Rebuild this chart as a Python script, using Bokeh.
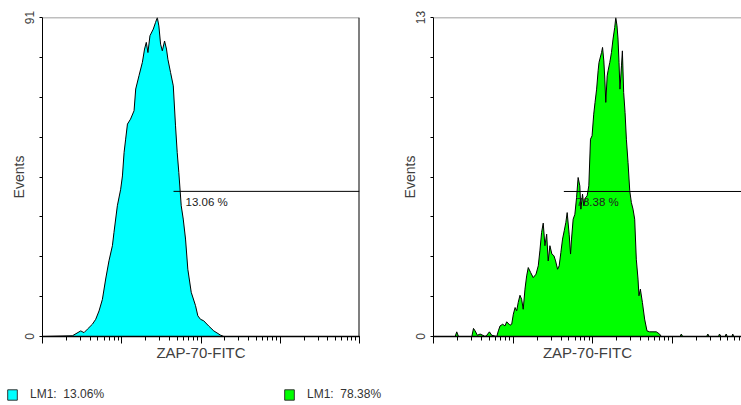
from bokeh.plotting import figure
from bokeh.models import Range1d, FixedTicker, LogTicker, Span, Legend, LegendItem, CustomJSTickFormatter
from bokeh.layouts import column, row
from bokeh.embed import file_html
from bokeh.resources import INLINE
from bokeh.core.properties import value

# ---- Left histogram (ZAP-70-FITC, control) ----
cyan_x = [1, 2.38, 3.04, 3.34, 3.69, 4.26, 4.69, 5.17, 5.70, 6.27, 6.90, 7.62, 7.98, 8.80,
          9.69, 10.2, 10.7, 11.2, 11.8, 12.9, 14.3, 15.0, 16.5, 18.2, 19.4, 20.4, 21.4,
          22.7, 25.0, 26.7, 28.1, 29.4, 30.9, 32.5, 34.7, 36.7, 38.2, 41.3, 44.7, 47.7,
          50.1, 52.5, 56.3, 59.7, 63.8, 68.2, 75.3, 85.3, 91.2, 98.6, 108, 125, 145,
          176, 194, 10000]
cyan_y = [0, 0.2, 1.6, 1.1, 2.1, 3.5, 4.9, 7.3, 10.6, 16.4, 21.6, 25.9, 29.7, 37.3,
          42.0, 45.8, 52.5, 56.3, 60.6, 62.0, 64.4, 70.6, 74.4, 78.2, 82.0, 83.9, 81.0,
          85.8, 87.7, 89.6, 91.0, 88.6, 83.4, 81.5, 84.3, 82.0, 79.1, 75.3, 71.5, 60.1,
          52.5, 46.8, 37.3, 33.5, 27.8, 19.2, 12.6, 8.8, 5.9, 4.9, 4.5, 3.0, 1.6,
          0.4, 0, 0]

# ---- Right histogram (ZAP-70-FITC, sample) ----
green_x = [1, 1.87, 1.96, 2.06, 3.03, 3.18, 3.33, 3.56, 3.85, 4.16, 4.44, 4.67, 5.04, 5.39,
           6.23, 6.53, 6.85, 7.40, 7.91, 8.30, 9.14, 9.60, 10.07, 10.6, 11.1, 11.6, 12.2,
           12.8, 13.4, 14.1, 14.8, 15.5, 16.6, 17.9, 19.4, 20.7, 21.7, 22.8, 23.9, 25.1,
           26.4, 27.6, 29.0, 30.7, 32.6, 34.2, 36.2, 37.9, 39.8, 41.8, 43.9, 46.0, 47.8,
           50.6, 52.7, 54.2, 56.8, 59.7, 62.7, 65.6, 68.9, 71.0, 74.5, 77.3, 81.2, 85.1,
           89.4, 93.8, 98.2, 103, 107, 112, 117, 120, 129, 133, 138, 142, 146, 152, 156,
           164, 172, 180, 189, 195, 202, 208, 214, 220, 230, 236, 245, 255, 265, 278,
           292, 306, 321, 337, 353, 371, 381, 397, 421, 449, 481, 519, 630, 692, 728,
           1250, 1297, 1350, 2700, 2795, 2900, 3800, 3917, 4100, 4600, 4750, 4900,
           5600, 5750, 5900, 7300]
green_y = [0, 0, 0.19, 0, 0, 0.33, 0.23, 0.05, 0.10, 0.05, 0, 0.05, 0.19, 0.05,
           0, 0.23, 0.43, 0.50, 0.43, 0.60, 0.46, 0.50, 0.91, 1.18, 1.05, 1.39, 1.68,
           1.52, 1.11, 1.93, 2.47, 2.81, 2.61, 2.40, 2.54, 2.88, 3.49, 4.24, 4.62, 3.70,
           4.17, 3.08, 3.70, 3.36, 3.29, 3.08, 2.74, 2.88, 3.42, 3.97, 4.31, 4.65, 5.05,
           4.17, 3.36, 3.97, 4.78, 4.98, 5.66, 6.48, 6.14, 5.19, 5.80, 5.33, 5.66, 5.73,
           6.14, 8.04, 8.18, 9.06, 9.54, 10.08, 10.83, 11.17, 11.57, 11.78, 11.23, 10.49, 9.54, 10.62, 10.83,
           11.17, 11.57, 12.12, 12.59, 13.0, 12.66, 12.12, 11.17, 10.08, 11.03, 11.64, 9.94, 9.13, 8.04, 7.09,
           5.94, 5.46, 5.19, 4.78, 3.15, 2.34, 1.66, 1.93, 1.39, 0.71, 0.23, 0.19, 0.19, 0.10, 0,
           0, 0.1, 0, 0, 0.1, 0, 0, 0.1, 0, 0, 0.1, 0,
           0, 0.1, 0, 0]

# Marker (LM1) gates: start of the gate, level, and percent labels
gate_start = [45, 43.4]
gate_level = [41.4, 5.91]
gate_pct = ["13.06 %", "78.38 %"]
gate_label_x = [63.8, 62.7]
gate_label_y = [38.3, 5.47]
legend_labels = ["LM1:  13.06%", "LM1:  78.38%"]
y_max = [91, 13]

CYAN = "#00FFFF"
GREEN = "#00FF00"
FONT = "Liberation Sans"
TXT = "#404040"

DECADE_PX = 79.6


def panel(xs, ys, color, idx, frame_w, left_b, right_b, right_edge):
    ymax = y_max[idx]
    xmax = 10 ** (frame_w / DECADE_PX) if not right_edge else 10000
    p = figure(x_axis_type="log", x_range=Range1d(1, xmax), y_range=Range1d(0, ymax),
               frame_width=frame_w, frame_height=319,
               min_border_left=left_b, min_border_right=right_b,
               min_border_top=17, min_border_bottom=32,
               output_backend="svg", toolbar_location=None,
               outline_line_color=None, background_fill_color="white")
    p.xgrid.visible = False
    p.ygrid.visible = False

    p.patch(xs, ys, fill_color=color, line_color="black", line_width=1)
    p.line([gate_start[idx], xmax], [gate_level[idx], gate_level[idx]],
           line_color="black", line_width=1)
    p.text(x=[gate_label_x[idx]], y=[gate_label_y[idx]], text=[gate_pct[idx]],
           text_font=value(FONT), text_font_size="11.5px", text_baseline="middle",
           text_color="#202020")

    p.add_layout(Span(location=ymax, dimension="width", line_color="#7f7f7f", line_width=1.5))
    if right_edge:
        p.add_layout(Span(location=xmax, dimension="height", line_color="black", line_width=2))

    xa = p.xaxis[0]
    xa.ticker = LogTicker(num_minor_ticks=10)
    xa.formatter = CustomJSTickFormatter(code="return ''")
    xa.major_tick_in = 0
    xa.major_tick_out = 7
    xa.minor_tick_in = 0
    xa.minor_tick_out = 4
    xa.major_label_text_font_size = "2px"
    xa.major_label_standoff = 0
    xa.axis_line_color = "black"
    xa.axis_line_width = 1.5
    xa.major_tick_line_color = "black"
    xa.minor_tick_line_color = "black"
    xa.axis_label = "ZAP-70-FITC"
    xa.axis_label_standoff = 0
    xa.axis_label_text_font = FONT
    xa.axis_label_text_font_size = "15px"
    xa.axis_label_text_font_style = "normal"
    xa.axis_label_text_color = TXT

    ya = p.yaxis[0]
    ya.ticker = FixedTicker(ticks=[0, ymax], minor_ticks=[ymax * i / 8 for i in range(1, 8)])
    ya.major_tick_in = 0
    ya.major_tick_out = 3
    ya.minor_tick_in = 0
    ya.minor_tick_out = 3
    ya.major_label_orientation = "vertical"
    ya.major_label_text_font = FONT
    ya.major_label_text_font_size = "12px"
    ya.major_label_text_color = TXT
    ya.major_label_standoff = 6
    ya.axis_line_color = "black"
    ya.axis_line_width = 1
    ya.major_tick_line_color = "black"
    ya.minor_tick_line_color = "black"
    ya.axis_label = "Events"
    ya.axis_label_standoff = -5
    ya.axis_label_text_font = FONT
    ya.axis_label_text_font_size = "14px"
    ya.axis_label_text_font_style = "normal"
    ya.axis_label_text_color = TXT
    return p


p1 = panel(cyan_x, cyan_y, CYAN, 0, 317, 42, 11, True)
p2 = panel(green_x, green_y, GREEN, 1, 308, 63, 0, False)

# legend strip (swatches reuse the panel colours)
s = figure(width=741, height=37, x_range=Range1d(0, 741), y_range=Range1d(0, 37),
           min_border=0, output_backend="svg", toolbar_location=None,
           x_axis_location=None, y_axis_location=None, outline_line_color=None)
s.xgrid.visible = False
s.ygrid.visible = False
r1 = s.patch(x=[0], y=[0], fill_color=CYAN, line_color="#333333", line_width=1)
r2 = s.patch(x=[0], y=[0], fill_color=GREEN, line_color="#333333", line_width=1)
for r, lab, loc in [(r1, legend_labels[0], (6, 4)), (r2, legend_labels[1], (283, 4))]:
    lg = Legend(items=[LegendItem(label=lab, renderers=[r])], location=loc,
                glyph_width=12, glyph_height=13, label_height=13, label_standoff=12,
                padding=0, margin=0, border_line_color=None, background_fill_alpha=0,
                label_text_font=FONT, label_text_font_size="12px", label_text_color="#333333")
    s.add_layout(lg)

layout = column(row(p1, p2), s)
open("out.html", "w").write(file_html(layout, INLINE))
